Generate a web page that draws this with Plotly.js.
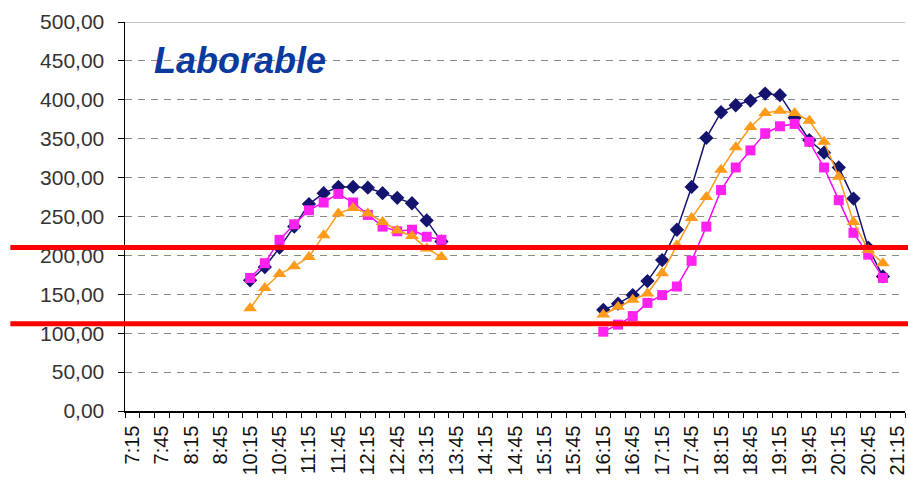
<!DOCTYPE html>
<html>
<head>
<meta charset="utf-8">
<script src="https://cdn.plot.ly/plotly-3.0.1.min.js"></script>
<style>html,body{margin:0;padding:0;background:#fff;}#chart{width:908px;height:483px;}</style>
</head>
<body>
<div id="chart"></div>
<script>
// Category axis (every 15 min slot; labels shown on every other slot)
const categories = ["7:15","7:30","7:45","8:00","8:15","8:30","8:45","10:00",
  "10:15","10:30","10:45","11:00","11:15","11:30","11:45","12:00","12:15","12:30","12:45","13:00","13:15","13:30","13:45",
  "14:00","14:15","14:30","14:45","15:00","15:15","15:30","15:45","16:00",
  "16:15","16:30","16:45","17:00","17:15","17:30","17:45","18:00","18:15","18:30","18:45","19:00","19:15","19:30","19:45",
  "20:00","20:15","20:30","20:45","21:00","21:15"];

const morningTimes = ["10:15","10:30","10:45","11:00","11:15","11:30","11:45","12:00","12:15","12:30","12:45","13:00","13:15","13:30"];
const eveningTimes = ["16:15","16:30","16:45","17:00","17:15","17:30","17:45","18:00","18:15","18:30","18:45","19:00","19:15","19:30","19:45","20:00","20:15","20:30","20:45","21:00"];

// Series 1 (navy diamonds)
const navyMorning = [168,185,210,237,266,280,288,288,287,280,274,267,245,218];
const navyEvening = [130,138,149,167,194,233,288,351,384,393,399,408,406,377,348,332,313,273,210,173];
// Series 2 (magenta squares)
const magentaMorning = [171,190,220,240,258,268,279,268,252,237,231,233,224,220];
const magentaEvening = [102,111,122,139,149,160,193,237,284,313,335,357,366,369,346,313,271,229,201,171];
// Series 3 (orange triangles)
const orangeMorning = [132,158,176,186,198,226,254,261,254,243,232,225,209,198];
const orangeEvening = [124,134,143,151,177,213,248,275,310,339,365,383,386,383,373,346,301,243,207,190];

// Reference limits (red lines)
const limits = [210, 112];

const gapX = "14:00";
function build(m, e){ return {x: morningTimes.concat([gapX], eveningTimes), y: m.concat([null], e)}; }

const tickText = categories.map((c,i)=> i%2===0 ? c : "");

const s1 = build(navyMorning, navyEvening);
const s2 = build(magentaMorning, magentaEvening);
const s3 = build(orangeMorning, orangeEvening);

const traces = [
  {x:s1.x, y:s1.y, type:"scatter", mode:"lines+markers", connectgaps:false,
   line:{color:"#14146e", width:1.5}, marker:{symbol:"diamond", size:11, color:"#14146e"}},
  {x:s2.x, y:s2.y, type:"scatter", mode:"lines+markers", connectgaps:false,
   line:{color:"#ff00ff", width:1.5}, marker:{symbol:"square", size:10, color:"#ff22ee"}},
  {x:s3.x, y:s3.y, type:"scatter", mode:"lines+markers", connectgaps:false,
   line:{color:"#ff9a1a", width:1.5}, marker:{symbol:"triangle-up", size:12, color:"#ff9a1a"}}
];

const shapes = [
  {type:"line", xref:"paper", yref:"y", x0:0, x1:1, y0:500, y1:500, line:{color:"#8a8a8a", width:1}, layer:"below"}
].concat(limits.map(v=>({type:"line", xref:"paper", yref:"y", x0:-0.147, x1:1.01, y0:v, y1:v,
   line:{color:"#ff0000", width:5}, layer:"above"})));

const layout = {
  width:908, height:483,
  margin:{l:125, r:3, t:22, b:72},
  paper_bgcolor:"#ffffff", plot_bgcolor:"#ffffff",
  showlegend:false,
  separators:",.",
  font:{family:"Liberation Sans, Arial, sans-serif", color:"#222"},
  xaxis:{
    type:"category", categoryorder:"array", categoryarray:categories,
    tickmode:"array", tickvals:categories, ticktext:tickText,
    tickson:"boundaries", ticks:"outside", ticklen:5, tickcolor:"#000",
    tickangle:-90, tickfont:{size:20, color:"#111"}, ticklabelstandoff:5,
    showline:true, linecolor:"#000", linewidth:1.5,
    showgrid:false, zeroline:false, range:[-0.5, 52.5], automargin:false
  },
  yaxis:{
    range:[0,500], tickmode:"linear", tick0:0, dtick:50, tickformat:".2f",
    ticks:"outside", ticklen:6, tickcolor:"#000",
    tickfont:{size:21, color:"#333"}, ticklabelstandoff:9,
    showline:true, linecolor:"#000", linewidth:1.5,
    showgrid:true, gridcolor:"#8a8a8a", gridwidth:1, griddash:"7px,6px",
    zeroline:false, automargin:false
  },
  shapes:shapes,
  annotations:[{
    xref:"paper", yref:"paper", x:0.034, y:0.902, xanchor:"left", yanchor:"middle",
    text:"<b><i>Laborable</i></b>", showarrow:false,
    font:{family:"Liberation Sans, Arial, sans-serif", size:36, color:"#0a3a9e"}
  }]
};

Plotly.newPlot("chart", traces, layout, {displayModeBar:false, staticPlot:true});
</script>
</body>
</html>
